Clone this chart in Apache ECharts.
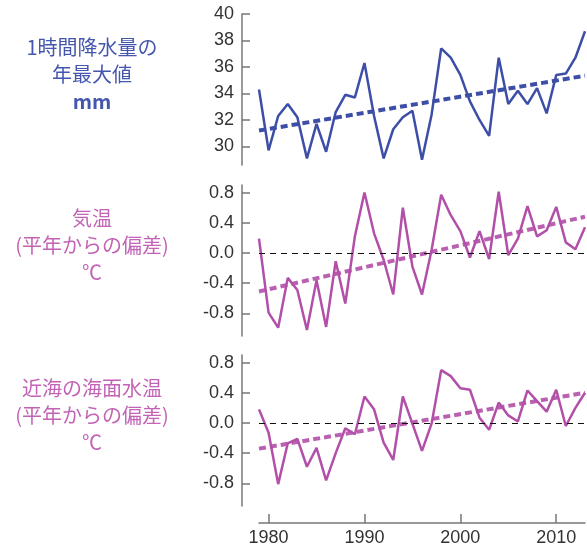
<!DOCTYPE html>
<html><head><meta charset="utf-8">
<script src="https://cdn.jsdelivr.net/npm/echarts@6/dist/echarts.min.js"></script>
<style>html,body{margin:0;padding:0;background:#fff}#c{width:587px;height:547px}</style>
</head><body><div id="c"></div>
<script>
const years = [1979,1980,1981,1982,1983,1984,1985,1986,1987,1988,1989,1990,1991,1992,1993,1994,1995,1996,1997,1998,1999,2000,2001,2002,2003,2004,2005,2006,2007,2008,2009,2010,2011,2012,2013];
const rainMax = [34.3,29.7,32.3,33.2,32.2,29.1,31.7,29.6,32.6,33.9,33.7,36.3,32.3,29.1,31.3,32.2,32.7,29.0,32.4,37.4,36.7,35.4,33.4,32.0,30.8,36.7,33.2,34.2,33.2,34.4,32.5,35.4,35.5,36.7,38.7];
const airTemp = [0.19,-0.79,-0.99,-0.33,-0.49,-1.02,-0.36,-0.98,-0.11,-0.67,0.22,0.80,0.26,-0.09,-0.55,0.60,-0.18,-0.55,0.04,0.77,0.50,0.29,-0.06,0.29,-0.08,0.81,-0.03,0.19,0.62,0.22,0.30,0.61,0.14,0.05,0.34];
const seaTemp = [0.18,-0.13,-0.81,-0.27,-0.21,-0.58,-0.33,-0.76,-0.40,-0.07,-0.15,0.35,0.18,-0.26,-0.49,0.35,-0.01,-0.37,-0.01,0.70,0.62,0.46,0.44,0.07,-0.09,0.27,0.10,0.02,0.43,0.29,0.15,0.44,-0.04,0.20,0.40];
const trendYears = [1979, 2013];
const rainTrend = [31.2, 35.34];
const airTrend = [-0.51, 0.48];
const seaTrend = [-0.34, 0.40];
const rainTicks = [30,32,34,36,38,40];
const anomTicks = [-0.8,-0.4,0,0.4,0.8];
const yearTicks = [1980,1990,2000,2010];
const labelsRain = ['1時間降水量の','年最大値','mm'];
const labelsAir = ['気温','(平年からの偏差)','℃'];
const labelsSea = ['近海の海面水温','(平年からの偏差)','℃'];

const BLUE = '#3d4ea6', MAG = '#b24fa8';
const BLUE_T = '#4456ad', MAG_T = '#c263b5';
const pair = (xs, ys) => xs.map((x,i)=>[x, ys[i]]);
const axisGray = '#777';
const labelStyle = {color:'#333', fontSize:18, fontFamily:'"Liberation Sans", Arial, sans-serif', margin:8};

function yAx(idx, min, max, ticks, fmt){
  return {type:'value', gridIndex:idx, min:min, max:max, offset:17,
    axisLine:{show:true, lineStyle:{color:axisGray, width:1.5}},
    axisTick:{show:true, inside:true, length:8, customValues:ticks, lineStyle:{color:axisGray, width:1.5}},
    axisLabel:Object.assign({customValues:ticks, formatter:fmt}, labelStyle),
    splitLine:{show:false}};
}
function xAx(idx, show){
  return {type:'value', gridIndex:idx, min:1979, max:2013, show:show, offset:17, position:'bottom',
    axisLine:{show:true, onZero:false, lineStyle:{color:axisGray, width:1.5}},
    axisTick:{show:true, inside:true, length:9, customValues:yearTicks, lineStyle:{color:axisGray, width:1.5}},
    axisLabel:Object.assign({customValues:yearTicks, formatter: v=>String(v)}, labelStyle, {margin:6}),
    splitLine:{show:false}};
}
const anomFmt = v => v.toFixed(1);
const gfx = [];
function addText(lines, cy, color){
  lines.forEach((t,i)=>gfx.push({type:'text', x:92, y:cy+i*27, style:{text:t, textAlign:'center', textVerticalAlign:'middle', fill:color, fontSize:20, fontWeight:(t==='mm'?'bold':'normal'), fontFamily:'"Noto Sans CJK JP", sans-serif'}}));
}
addText(labelsRain, 47, BLUE_T);
addText(labelsAir, 218, MAG_T);
addText(labelsSea, 388, MAG_T);

const zeroLine = {silent:true, symbol:'none', label:{show:false}, lineStyle:{color:'#111', type:[6,5], width:1.2}, data:[{yAxis:0}]};

const option = {
  animation:false,
  grid:[
    {left:259, right:2, top:14, height:151},
    {left:259, right:2, top:185, height:151},
    {left:259, right:2, top:355, height:151}
  ],
  xAxis:[xAx(0,false), xAx(1,false), xAx(2,true)],
  yAxis:[
    yAx(0, 28.6, 40, rainTicks, v=>String(v)),
    yAx(1, -1.1, 0.9, anomTicks, anomFmt),
    yAx(2, -1.1, 0.9, anomTicks, anomFmt)
  ],
  graphic: gfx,
  series:[
    {type:'line', xAxisIndex:0, yAxisIndex:0, data:pair(years, rainMax), symbol:'none', lineStyle:{color:BLUE, width:2.5}},
    {type:'line', xAxisIndex:0, yAxisIndex:0, data:pair(trendYears, rainTrend), symbol:'none', lineStyle:{color:BLUE, width:4, type:[7,4]}},
    {type:'line', xAxisIndex:1, yAxisIndex:1, data:pair(years, airTemp), symbol:'none', lineStyle:{color:MAG, width:2.5}, markLine:zeroLine, z:3},
    {type:'line', xAxisIndex:1, yAxisIndex:1, data:pair(trendYears, airTrend), symbol:'none', lineStyle:{color:MAG, width:4, type:[7,4], opacity:0.9}},
    {type:'line', xAxisIndex:2, yAxisIndex:2, data:pair(years, seaTemp), symbol:'none', lineStyle:{color:MAG, width:2.5}, markLine:zeroLine, z:3},
    {type:'line', xAxisIndex:2, yAxisIndex:2, data:pair(trendYears, seaTrend), symbol:'none', lineStyle:{color:MAG, width:4, type:[7,4], opacity:0.9}}
  ]
};
echarts.init(document.getElementById('c')).setOption(option);
</script></body></html>
